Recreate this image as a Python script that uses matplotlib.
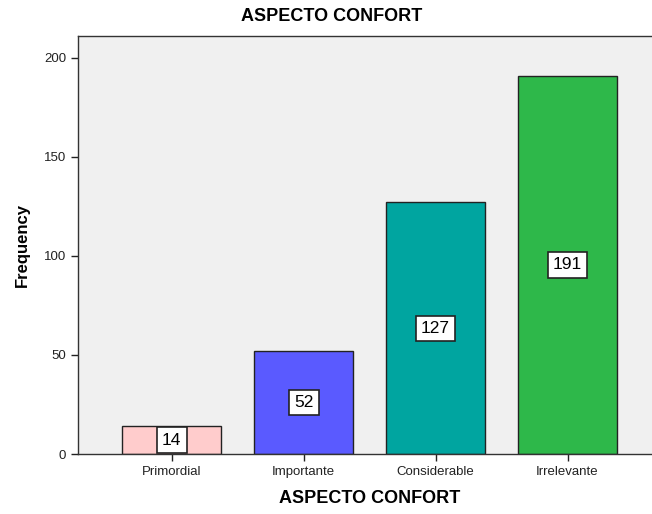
import matplotlib
matplotlib.use('Agg')
import matplotlib.pyplot as plt

categorias = ['Primordial', 'Importante', 'Considerable', 'Irrelevante']
frecuencias = [14, 52, 127, 191]
colores = ['#FFCCCC', '#5A5AFF', '#00A5A0', '#2EB84A']

plt.rcParams['font.family'] = ['Liberation Sans', 'DejaVu Sans']

fig = plt.figure(figsize=(6.52, 5.14), dpi=100)
ax = fig.add_axes([0.1196, 0.1167, 0.8804, 0.8133])
ax.set_facecolor('#F0F0F0')

pos = range(len(categorias))
ax.bar(pos, frecuencias, width=0.75, color=colores, edgecolor='#222222', linewidth=1, zorder=2)
for x, v in zip(pos, frecuencias):
    ax.text(x, v / 2, str(v), ha='center', va='center', fontsize=12.5, zorder=3,
            bbox=dict(boxstyle='square,pad=0.3', facecolor='white', edgecolor='#222222', linewidth=1.2))

ax.set_xlim(-0.71, 3.64)
ax.set_ylim(0, 211)
ax.set_xticks(list(pos))
ax.set_xticklabels(categorias, fontsize=9.5)
ax.set_yticks([0, 50, 100, 150, 200])
ax.tick_params(axis='both', labelsize=9.5, length=5, width=1, colors='#222222')
for s in ['top', 'bottom', 'left', 'right']:
    ax.spines[s].set_color('#333333')
    ax.spines[s].set_linewidth(1)
ax.spines['right'].set_visible(False)

# el titulo va centrado en la figura, no en los ejes
fig.suptitle('ASPECTO CONFORT', fontsize=13, fontweight='bold', x=0.508, y=0.985)
ax.set_xlabel('ASPECTO CONFORT', fontsize=13, fontweight='bold', labelpad=10)
ax.xaxis.set_label_coords(0.509, -0.085)
ax.set_ylabel('Frequency', fontsize=12, fontweight='bold', labelpad=10)

fig.savefig('out.png', dpi=100)
